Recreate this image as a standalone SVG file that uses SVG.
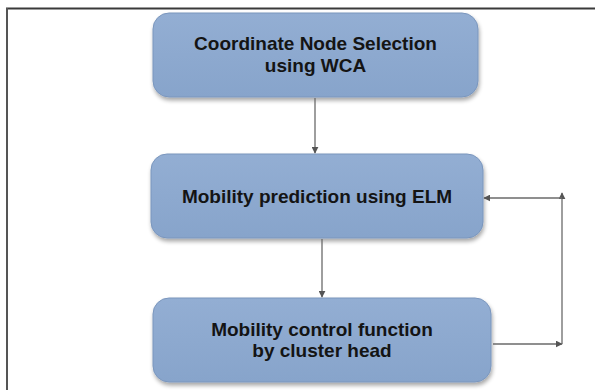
<svg xmlns="http://www.w3.org/2000/svg" width="595" height="390" viewBox="0 0 595 390">
<defs>
<linearGradient id="fill" x1="0" y1="0" x2="0" y2="1">
<stop offset="0" stop-color="#93AED3"/>
<stop offset="1" stop-color="#87A4CB"/>
</linearGradient>
<filter id="sh" x="-10%" y="-10%" width="125%" height="135%">
<feGaussianBlur in="SourceAlpha" stdDeviation="2"/>
<feOffset dx="1" dy="3" result="b"/>
<feComponentTransfer><feFuncA type="linear" slope="0.35"/></feComponentTransfer>
<feMerge><feMergeNode/><feMergeNode in="SourceGraphic"/></feMerge>
</filter>
<marker id="ah" viewBox="0 0 10 10" refX="9" refY="5" markerWidth="7" markerHeight="7" markerUnits="userSpaceOnUse" orient="auto">
<path d="M0,0 L10,5 L0,10 z" fill="#555"/>
</marker>
</defs>
<style>
.box{fill:url(#fill);stroke:#7A96BD;stroke-width:1;filter:url(#sh)}
.t{font-family:"Liberation Sans",Arial,sans-serif;font-weight:bold;font-size:19px;fill:#141414;text-anchor:middle}
.c{stroke:#6a6a6a;stroke-width:1.3;fill:none;marker-end:url(#ah)}
</style>
<rect width="595" height="390" fill="#fff"/>
<g id="frame">
<line x1="6" y1="8.5" x2="595" y2="8.5" stroke="#3a3a3a" stroke-width="2"/>
<line x1="7" y1="8" x2="7" y2="390" stroke="#555" stroke-width="2"/>
</g>
<g id="node1">
<rect class="box" x="153" y="13" width="325" height="84" rx="16"/>
<text class="t" x="315.5" y="50">Coordinate Node Selection</text>
<text class="t" x="315.5" y="72">using WCA</text>
</g>
<g id="node2">
<rect class="box" x="151" y="154" width="332" height="84" rx="16"/>
<text class="t" x="317" y="203">Mobility prediction using ELM</text>
</g>
<g id="node3">
<rect class="box" x="153" y="298" width="338" height="84" rx="16"/>
<text class="t" x="322" y="336">Mobility control function</text>
<text class="t" x="322" y="357">by cluster head</text>
</g>
<g id="connectors">
<line class="c" x1="315" y1="98" x2="315" y2="153"/>
<line class="c" x1="322" y1="239" x2="322" y2="297"/>
<line class="c" x1="493" y1="344" x2="562" y2="344"/>
<line class="c" x1="562" y1="344" x2="562" y2="193"/>
<line class="c" x1="562" y1="198" x2="484" y2="198"/>
</g>
</svg>
